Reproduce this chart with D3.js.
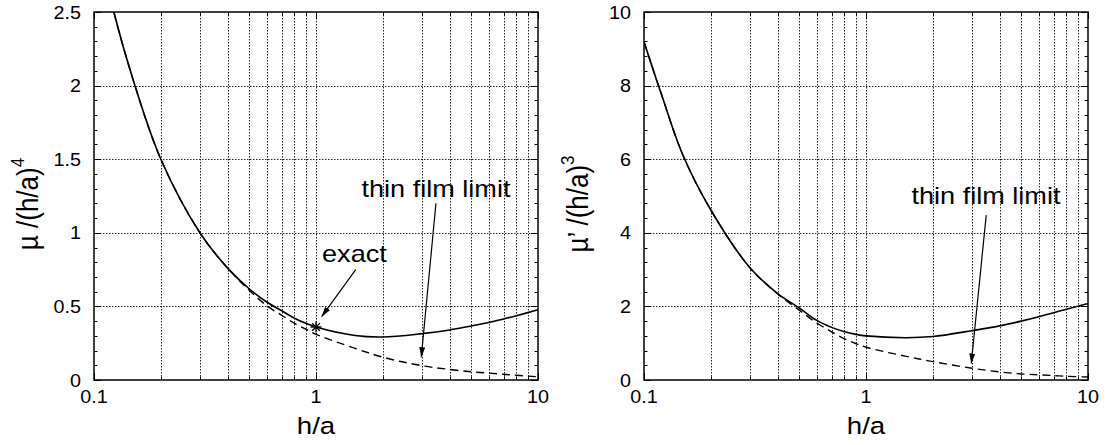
<!DOCTYPE html>
<html lang="en">
<head>
    <meta charset="UTF-8">
    <title>mu vs h/a</title>
    <script src="https://d3js.org/d3.v7.min.js"></script>
    <style>
        body {
            margin: 0;
            padding: 0;
            background: #ffffff;
            overflow: hidden;
        }
        svg text {
            font-family: "Liberation Sans", Arial, Helvetica, sans-serif;
            fill: #000;
        }
    </style>
</head>
<body>
    <svg id="chart"></svg>

    <script>
        // h/a sample points
        const hValues = [0.1, 0.12, 0.15, 0.2, 0.3, 0.4, 0.5, 0.6, 0.7, 0.8, 0.9, 1, 1.5, 2, 3, 4, 5, 6, 7, 8, 10];

        // left panel: mu / (h/a)^4
        const muExact = [3.1, 2.56, 2.04, 1.5, 1.0, 0.76, 0.62, 0.53, 0.47, 0.42, 0.385, 0.36, 0.302, 0.292, 0.315, 0.34, 0.367, 0.39, 0.415, 0.437, 0.477];
        const muThin  = [3.1, 2.56, 2.04, 1.5, 1.0, 0.76, 0.61, 0.505, 0.44, 0.385, 0.345, 0.31, 0.215, 0.155, 0.097, 0.072, 0.056, 0.047, 0.039, 0.032, 0.022];

        // right panel: mu' / (h/a)^3
        const muPrimeExact = [9.19, 7.75, 6.1, 4.62, 3.05, 2.35, 1.96, 1.62, 1.43, 1.31, 1.24, 1.2, 1.15, 1.18, 1.34, 1.47, 1.6, 1.72, 1.83, 1.92, 2.08];
        const muPrimeThin  = [9.19, 7.75, 6.1, 4.62, 3.05, 2.34, 1.9, 1.55, 1.31, 1.12, 0.99, 0.89, 0.65, 0.5, 0.32, 0.22, 0.165, 0.14, 0.12, 0.1, 0.08];

        // tick labels
        const xTicks = [0.1, 1, 10];
        const xTickLabels = ["0.1", "1", "10"];
        const leftYTicks = [0, 0.5, 1, 1.5, 2, 2.5];
        const rightYTicks = [0, 2, 4, 6, 8, 10];

        // marked point on the exact curve
        const exactPoint = [{ h: 1, v: 0.36 }];

        const width = 1106;
        const height = 445;
        const stretch = 1.13;   // the original lettering is a little wide

        const svg = d3.select("#chart")
            .attr("width", width)
            .attr("height", height);

        const defs = svg.append("defs");
        defs.append("marker")
            .attr("id", "arrow")
            .attr("viewBox", "0 0 10 6")
            .attr("refX", 10)
            .attr("refY", 3)
            .attr("markerWidth", 10)
            .attr("markerHeight", 6)
            .attr("markerUnits", "userSpaceOnUse")
            .attr("orient", "auto")
            .append("path")
            .attr("d", "M0,0 L10,3 L0,6 Z")
            .attr("fill", "#000");

        // minor x positions (2..9 in each decade)
        const xMinor = [];
        [0.1, 1].forEach(dec => {
            for (let k = 2; k <= 9; k++) xMinor.push(+(dec * k).toFixed(3));
        });

        // text drawn slightly wider than the font
        function wideText(sel, px, py, str, size, anchor) {
            return sel.append("text")
                .attr("transform", `translate(${px},${py}) scale(${stretch},1)`)
                .attr("text-anchor", anchor)
                .attr("font-size", size)
                .text(str);
        }

        function drawPanel(opt) {
            const { left, right, top, bottom } = opt;
            const g = svg.append("g");

            const x = d3.scaleLog().domain([0.1, 10]).range([left, right]);
            const y = d3.scaleLinear().domain([0, opt.yMax]).range([bottom, top]);

            const clipId = "clip" + opt.id;
            defs.append("clipPath").attr("id", clipId)
                .append("rect")
                .attr("x", left).attr("y", top)
                .attr("width", right - left).attr("height", bottom - top);

            // grid
            const grid = g.append("g")
                .attr("stroke", "#222")
                .attr("stroke-width", 1)
                .attr("stroke-dasharray", "1.5,1.5");
            grid.selectAll(".vg")
                .data(xMinor.concat([1]))
                .enter().append("line")
                .attr("x1", d => Math.round(x(d)) + 0.5)
                .attr("x2", d => Math.round(x(d)) + 0.5)
                .attr("y1", top).attr("y2", bottom);
            grid.selectAll(".hg")
                .data(opt.yTicks.filter(d => d > 0 && d < opt.yMax))
                .enter().append("line")
                .attr("y1", d => Math.round(y(d)) + 0.5)
                .attr("y2", d => Math.round(y(d)) + 0.5)
                .attr("x1", left).attr("x2", right);

            // ticks on all four sides
            const ticks = g.append("g").attr("stroke", "#000").attr("stroke-width", 1);
            const majorLen = 7, minorLen = 3.5;
            xTicks.concat(xMinor).forEach(d => {
                const len = xTicks.includes(d) ? majorLen : minorLen;
                const px = Math.round(x(d)) + 0.5;
                ticks.append("line").attr("x1", px).attr("x2", px).attr("y1", bottom).attr("y2", bottom - len);
                ticks.append("line").attr("x1", px).attr("x2", px).attr("y1", top).attr("y2", top + len);
            });
            const yMinor = d3.range(0, opt.yMax + 1e-9, opt.yMinorStep);
            yMinor.forEach(d => {
                const isMajor = opt.yTicks.some(t => Math.abs(t - d) < 1e-6);
                const len = isMajor ? majorLen : minorLen;
                const py = Math.round(y(d)) + 0.5;
                ticks.append("line").attr("y1", py).attr("y2", py).attr("x1", left).attr("x2", left + len);
                ticks.append("line").attr("y1", py).attr("y2", py).attr("x1", right).attr("x2", right - len);
            });

            // curves
            const line = d3.line()
                .x((d, i) => x(hValues[i]))
                .y(d => y(d))
                .curve(d3.curveCatmullRom.alpha(0.5));
            const curves = g.append("g").attr("clip-path", `url(#${clipId})`);
            curves.append("path")
                .attr("d", line(opt.thin))
                .attr("fill", "none")
                .attr("stroke", "#000")
                .attr("stroke-width", 1.4)
                .attr("stroke-dasharray", "8,5");
            curves.append("path")
                .attr("d", line(opt.exact))
                .attr("fill", "none")
                .attr("stroke", "#000")
                .attr("stroke-width", 1.6);

            // frame
            g.append("rect")
                .attr("x", left).attr("y", top)
                .attr("width", right - left).attr("height", bottom - top)
                .attr("fill", "none")
                .attr("stroke", "#000")
                .attr("stroke-width", 1.5);

            // tick labels
            xTicks.forEach((d, i) => wideText(g, x(d), bottom + 23, xTickLabels[i], 17.5, "middle"));
            opt.yTicks.forEach(d => wideText(g, left - 13, y(d) + 6.5, d, 17.5, "end"));

            // axis titles
            wideText(g, (left + right) / 2, bottom + 54, "h/a", 24.5, "middle");
            const yt = g.append("text")
                .attr("transform", `translate(${left - 56},${(top + bottom) / 2 + 8}) rotate(-90) scale(1,${stretch})`)
                .attr("text-anchor", "middle")
                .attr("font-size", 26);
            yt.append("tspan").text(opt.yTitle);
            yt.append("tspan").attr("dy", -12).attr("font-size", 17).text(opt.yPower);

            // annotations
            opt.notes.forEach(n => {
                wideText(g, x(n.tx), y(n.ty), n.label, 24, "middle");
                g.append("line")
                    .attr("x1", x(n.x1)).attr("y1", y(n.y1))
                    .attr("x2", x(n.x2)).attr("y2", y(n.y2))
                    .attr("stroke", "#000")
                    .attr("stroke-width", 1.2)
                    .attr("marker-end", "url(#arrow)");
            });

            return { g, x, y };
        }

        const leftPanel = drawPanel({
            id: "L", left: 94, right: 538, top: 12, bottom: 380,
            yMax: 2.5, yTicks: leftYTicks, yMinorStep: 0.1,
            exact: muExact, thin: muThin,
            yTitle: "\u00B5 /(h/a)", yPower: "4",
            notes: [
                { label: "exact", tx: 1.49, ty: 0.8, x1: 1.51, y1: 0.75, x2: 1.06, y2: 0.43 },
                { label: "thin film limit", tx: 3.47, ty: 1.24, x1: 3.47, y1: 1.2, x2: 2.98, y2: 0.155 }
            ]
        });

        // star marker at h/a = 1
        const star = leftPanel.g.append("g").attr("stroke", "#000").attr("stroke-width", 1.4);
        exactPoint.forEach(p => {
            const cx = leftPanel.x(p.h), cy = leftPanel.y(p.v), r = 5.5;
            star.append("line").attr("x1", cx - r).attr("x2", cx + r).attr("y1", cy).attr("y2", cy);
            star.append("line").attr("x1", cx).attr("x2", cx).attr("y1", cy - r).attr("y2", cy + r);
            star.append("line").attr("x1", cx - r * 0.7).attr("x2", cx + r * 0.7).attr("y1", cy - r * 0.7).attr("y2", cy + r * 0.7);
            star.append("line").attr("x1", cx - r * 0.7).attr("x2", cx + r * 0.7).attr("y1", cy + r * 0.7).attr("y2", cy - r * 0.7);
        });

        drawPanel({
            id: "R", left: 644, right: 1088, top: 12, bottom: 380,
            yMax: 10, yTicks: rightYTicks, yMinorStep: 0.4,
            exact: muPrimeExact, thin: muPrimeThin,
            yTitle: "\u00B5\u2019 /(h/a)", yPower: "3",
            notes: [
                { label: "thin film limit", tx: 3.47, ty: 4.78, x1: 3.48, y1: 4.48, x2: 2.98, y2: 0.45 }
            ]
        });
    </script>
</body>
</html>
